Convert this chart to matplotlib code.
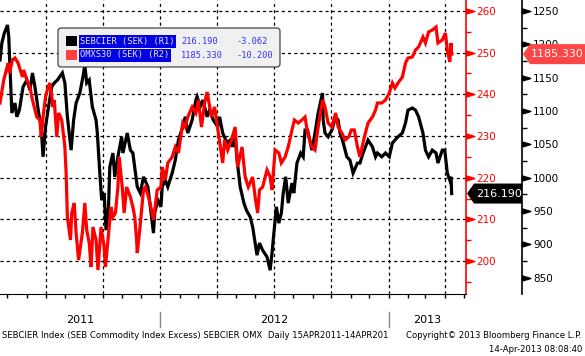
import matplotlib
matplotlib.use('Agg')
import matplotlib.pyplot as plt
import matplotlib.dates as mdates
import matplotlib.transforms as mtransforms
import matplotlib.ticker as mticker
from matplotlib.patches import Rectangle, Polygon, FancyBboxPatch
from matplotlib.path import Path
import pandas as pd

# SEBCIER (SEK) (R1 axis, red labels)
seb_dates = [
    '2011-04-19', '2011-04-22', '2011-04-26', '2011-05-01', '2011-05-03', '2011-05-05', '2011-05-08',
    '2011-05-13', '2011-05-16', '2011-05-20', '2011-05-26', '2011-06-01', '2011-06-06', '2011-06-10',
    '2011-06-14', '2011-06-20', '2011-06-24', '2011-06-27', '2011-07-01', '2011-07-05', '2011-07-11',
    '2011-07-15', '2011-07-20', '2011-07-28', '2011-08-01', '2011-08-05', '2011-08-11', '2011-08-15',
    '2011-08-19', '2011-08-25', '2011-08-30', '2011-09-02', '2011-09-05', '2011-09-09', '2011-09-14',
    '2011-09-20', '2011-09-22', '2011-09-26', '2011-09-29', '2011-10-03', '2011-10-06', '2011-10-10',
    '2011-10-12', '2011-10-17', '2011-10-20', '2011-10-25', '2011-10-31', '2011-11-02', '2011-11-09',
    '2011-11-14', '2011-11-18', '2011-11-25', '2011-11-30', '2011-12-05', '2011-12-12', '2011-12-16',
    '2011-12-21', '2011-12-23', '2011-12-28', '2012-01-02', '2012-01-04', '2012-01-09', '2012-01-13',
    '2012-01-20', '2012-01-25', '2012-01-30', '2012-02-06', '2012-02-10', '2012-02-14', '2012-02-21',
    '2012-02-27', '2012-02-29', '2012-03-05', '2012-03-09', '2012-03-16', '2012-03-20', '2012-03-26',
    '2012-04-02', '2012-04-05', '2012-04-10', '2012-04-17', '2012-04-22', '2012-04-26', '2012-04-30',
    '2012-05-03', '2012-05-08', '2012-05-14', '2012-05-18', '2012-05-24', '2012-05-28', '2012-06-01',
    '2012-06-04', '2012-06-08', '2012-06-13', '2012-06-20', '2012-06-25', '2012-06-28', '2012-07-02',
    '2012-07-05', '2012-07-09', '2012-07-13', '2012-07-16', '2012-07-20', '2012-07-24', '2012-07-30',
    '2012-08-02', '2012-08-07', '2012-08-13', '2012-08-17', '2012-08-20', '2012-08-24', '2012-08-31',
    '2012-09-05', '2012-09-10', '2012-09-17', '2012-09-18', '2012-09-21', '2012-09-26', '2012-10-02',
    '2012-10-08', '2012-10-12', '2012-10-15', '2012-10-19', '2012-10-26', '2012-10-31', '2012-11-05',
    '2012-11-12', '2012-11-16', '2012-11-21', '2012-11-29', '2012-12-06', '2012-12-11', '2012-12-14',
    '2012-12-21', '2012-12-27', '2013-01-02', '2013-01-07', '2013-01-11', '2013-01-16', '2013-01-23',
    '2013-01-28', '2013-02-01', '2013-02-08', '2013-02-13', '2013-02-18', '2013-02-25', '2013-03-01',
    '2013-03-06', '2013-03-12', '2013-03-18', '2013-03-21', '2013-03-28', '2013-04-01', '2013-04-05',
    '2013-04-09', '2013-04-11', '2013-04-12']
seb_vals = [
    248.2, 252.3, 254.7, 256.6, 253.8, 246.6, 235.5,
    237.9, 234.6, 236.2, 241.8, 243.4, 241.0, 245.1,
    241.8, 235.5, 232.2, 225.0, 232.2, 236.2, 241.8,
    242.7, 243.4, 245.1, 242.7, 234.6, 226.6, 233.8,
    237.9, 240.3, 244.2, 247.0, 242.7, 243.4, 237.0,
    233.8, 230.7, 221.1, 214.6, 216.3, 207.4, 213.0,
    222.6, 225.9, 220.2, 225.0, 229.8, 225.9, 230.7,
    226.6, 225.9, 217.8, 216.3, 220.2, 217.8, 213.0,
    206.7, 211.5, 214.6, 213.0, 217.8, 219.4, 217.8,
    221.1, 224.2, 229.0, 232.2, 234.6, 230.7, 233.8,
    238.6, 239.4, 237.0, 238.6, 234.6, 236.2, 233.8,
    232.2, 234.6, 230.7, 228.3, 229.0, 227.4, 229.8,
    224.2, 217.8, 213.9, 212.2, 210.6, 208.2, 204.3,
    201.4, 204.3, 202.6, 201.0, 197.8, 201.9, 208.2,
    213.0, 209.1, 211.5, 216.3, 220.2, 213.9, 218.7,
    216.3, 223.5, 225.9, 225.0, 231.4, 231.4, 226.6,
    230.7, 235.5, 240.3, 233.8, 230.7, 229.8, 231.4,
    234.6, 233.8, 230.7, 229.0, 225.0, 224.2, 221.1,
    223.5, 223.5, 225.9, 229.0, 227.4, 225.0, 225.9,
    225.0, 225.9, 225.0, 228.3, 229.0, 229.8, 230.7,
    233.1, 236.2, 236.7, 236.2, 234.6, 230.7, 226.6,
    225.0, 226.6, 225.9, 223.5, 226.6, 226.6, 221.1,
    219.4, 220.2, 216.19]

# OMXS30 (SEK), R2 axis, black labels
omx_dates = [
    '2011-04-19', '2011-04-25', '2011-05-02', '2011-05-04', '2011-05-09', '2011-05-13', '2011-05-18',
    '2011-05-25', '2011-05-27', '2011-06-01', '2011-06-06', '2011-06-10', '2011-06-17', '2011-06-22',
    '2011-06-24', '2011-06-27', '2011-07-01', '2011-07-05', '2011-07-08', '2011-07-13', '2011-07-15',
    '2011-07-19', '2011-07-22', '2011-07-27', '2011-08-01', '2011-08-03', '2011-08-05', '2011-08-10',
    '2011-08-12', '2011-08-16', '2011-08-19', '2011-08-23', '2011-08-29', '2011-09-02', '2011-09-05',
    '2011-09-09', '2011-09-12', '2011-09-15', '2011-09-20', '2011-09-23', '2011-09-28', '2011-10-03',
    '2011-10-05', '2011-10-10', '2011-10-14', '2011-10-17', '2011-10-21', '2011-10-25', '2011-10-27',
    '2011-11-01', '2011-11-04', '2011-11-08', '2011-11-14', '2011-11-18', '2011-11-21', '2011-11-24',
    '2011-11-25', '2011-11-29', '2011-12-05', '2011-12-08', '2011-12-13', '2011-12-19', '2011-12-21',
    '2011-12-27', '2012-01-02', '2012-01-04', '2012-01-09', '2012-01-13', '2012-01-20', '2012-01-25',
    '2012-01-30', '2012-02-06', '2012-02-10', '2012-02-14', '2012-02-21', '2012-02-27', '2012-03-02',
    '2012-03-07', '2012-03-12', '2012-03-16', '2012-03-23', '2012-03-28', '2012-04-03', '2012-04-10',
    '2012-04-13', '2012-04-18', '2012-04-24', '2012-04-30', '2012-05-04', '2012-05-11', '2012-05-16',
    '2012-05-21', '2012-05-28', '2012-06-01', '2012-06-05', '2012-06-08', '2012-06-13', '2012-06-20',
    '2012-06-25', '2012-06-28', '2012-07-03', '2012-07-09', '2012-07-13', '2012-07-19', '2012-07-24',
    '2012-07-30', '2012-08-03', '2012-08-09', '2012-08-15', '2012-08-20', '2012-08-24', '2012-08-31',
    '2012-09-05', '2012-09-10', '2012-09-17', '2012-09-21', '2012-09-26', '2012-10-02', '2012-10-08',
    '2012-10-12', '2012-10-18', '2012-10-23', '2012-10-29', '2012-11-02', '2012-11-07', '2012-11-12',
    '2012-11-16', '2012-11-23', '2012-11-29', '2012-12-06', '2012-12-11', '2012-12-14', '2012-12-21',
    '2012-12-27', '2013-01-02', '2013-01-07', '2013-01-11', '2013-01-16', '2013-01-23', '2013-01-28',
    '2013-02-01', '2013-02-08', '2013-02-13', '2013-02-18', '2013-02-25', '2013-03-01', '2013-03-06',
    '2013-03-12', '2013-03-18', '2013-03-21', '2013-03-28', '2013-04-02', '2013-04-05', '2013-04-09',
    '2013-04-11', '2013-04-12']
omx_vals = [
    1112, 1146.5, 1172, 1157, 1176.5, 1179.5, 1172,
    1151, 1161.5, 1146.5, 1136, 1116.5, 1091, 1086.5,
    1061, 1091, 1121, 1136, 1142, 1106, 1116.5,
    1061, 1097, 1086.5, 1046, 1007, 941, 906.5,
    947, 962, 917, 876.5, 917, 962, 921.5,
    902, 866, 926, 906.5, 861.5, 926, 896,
    866, 917, 956, 941, 947, 986, 1031,
    986, 947, 986, 971, 956, 941, 906.5,
    887, 921.5, 981.5, 986, 971, 947, 936.5,
    981.5, 986, 1016, 996.5, 1022, 1031, 1046,
    1037, 1082, 1076, 1091, 1106, 1097, 1116.5,
    1076, 1112, 1128.5, 1091, 1106, 1067, 1022,
    1056.5, 1041.5, 1056.5, 1076, 1016, 1046, 1001,
    986, 1001, 971, 947, 981.5, 986, 1011.5,
    1001, 981.5, 1041.5, 1037, 1022, 1031, 1046,
    1071.5, 1086.5, 1082, 1086.5, 1091, 1067, 1046,
    1041.5, 1076, 1116.5, 1106, 1082, 1076, 1097,
    1076, 1067, 1056.5, 1061, 1071.5, 1071.5, 1046,
    1031, 1061, 1082, 1091, 1101.5, 1112, 1112,
    1116.5, 1127, 1142, 1134.5, 1142, 1151, 1172,
    1179.5, 1181, 1191.5, 1196, 1211, 1202, 1218.5,
    1221.5, 1226, 1202, 1206.5, 1217, 1191.5, 1173.5,
    1202, 1185.33]

seb_ticks = [200, 210, 220, 230, 240, 250, 260]
omx_ticks = [850, 900, 950, 1000, 1050, 1100, 1150, 1200, 1250]
years = ['2011', '2012', '2013']

seb_x = pd.to_datetime(seb_dates)
omx_x = pd.to_datetime(omx_dates)

W, H = 585, 356
fig = plt.figure(figsize=(W / 100, H / 100), dpi=100)
fig.patch.set_facecolor('white')
# pixel coords measured from the top left
px = mtransforms.Affine2D().scale(1 / W, -1 / H).translate(0, 1) + fig.transFigure

ax = fig.add_axes([0, 1 - 294 / H, 466 / W, 294 / H])
ax2 = ax.twinx()

x0 = pd.Timestamp('2011-04-19')
x1 = pd.Timestamp('2013-05-05')
ax.set_xlim(x0, x1)
ax.set_ylim(192.1, 262.6)
ax2.set_ylim(825.5, 1266.5)

ax.plot(seb_x, seb_vals, color='black', lw=2.3, solid_joinstyle='miter')
ax2.plot(omx_x, omx_vals, color='#ff0000', lw=2.3, solid_joinstyle='miter')

for s in ['top', 'left']:
    ax.spines[s].set_visible(False)
ax.spines['bottom'].set_color('black')
ax.spines['right'].set_color('red')
ax.spines['right'].set_linewidth(1.2)
for s in ['top', 'left', 'bottom']:
    ax2.spines[s].set_visible(False)
ax2.spines['right'].set_position(('axes', 522 / 466))
ax2.spines['right'].set_color('black')
ax2.spines['right'].set_linewidth(1.2)

# x axis: monthly ticks, quarterly grid
ax.xaxis.set_major_locator(mdates.MonthLocator(bymonth=[1, 4, 7, 10]))
ax.xaxis.set_minor_locator(mdates.MonthLocator())
ax.xaxis.set_major_formatter(mticker.NullFormatter())
ax.tick_params(axis='x', which='both', length=3, width=1, direction='out', color='black')

dash = (0, (2.5, 2.5))
ax.grid(axis='x', which='major', color='black', ls=dash, lw=0.9)
ax.grid(axis='y', which='major', color='black', ls=dash, lw=0.9)

# red axis (SEBCIER)
ax.yaxis.tick_right()
ax.yaxis.set_major_locator(mticker.FixedLocator(seb_ticks))
ax.yaxis.set_minor_locator(mticker.MultipleLocator(5))
ax.tick_params(axis='y', which='major', length=0, labelcolor='red', pad=7.5, labelsize=7.5)
ax.tick_params(axis='y', which='minor', length=3.5, width=1, color='red', direction='out')

# black axis (OMXS30)
ax2.yaxis.set_major_locator(mticker.FixedLocator(omx_ticks))
ax2.yaxis.set_minor_locator(mticker.MultipleLocator(25))
ax2.tick_params(axis='y', which='major', length=0, labelcolor='black', pad=8, labelsize=7.5)
ax2.tick_params(axis='y', which='minor', length=3.5, width=1, color='black', direction='out')

tri = Path([(0, -0.3), (1, 0), (0, 0.3), (0, -0.3)])
ax.plot([1.0] * len(seb_ticks), seb_ticks, ls='none', marker=tri, ms=12, color='red',
        transform=ax.get_yaxis_transform(), clip_on=False)
ax2.plot([522 / 466] * len(omx_ticks), omx_ticks, ls='none', marker=tri, ms=12, color='black',
         transform=ax2.get_yaxis_transform(), clip_on=False)

# year labels with separators
bounds = [x0, pd.Timestamp('2012-01-01'), pd.Timestamp('2013-01-01'), x1]
xt = ax.get_xaxis_transform()
for i, yr in enumerate(years):
    a = mdates.date2num(bounds[i])
    b = mdates.date2num(bounds[i + 1])
    ax.text((a + b) / 2, -0.088, yr, transform=xt, ha='center', va='center', fontsize=8)
for d in bounds[1:3]:
    ax.plot([d, d], [-0.061, -0.113], transform=xt, color='#888888', lw=1, clip_on=False)


def pix_y(axis, v):
    yd = axis.transData.transform((0, v))[1]
    return H - yd * H / fig.bbox.height


# last value tags
yb = pix_y(ax, seb_vals[-1])
fig.add_artist(Polygon([(467, yb), (474, yb - 10), (522, yb - 10), (522, yb + 10), (474, yb + 10)],
                       closed=True, fc='black', ec='none', transform=px, zorder=5))
fig.text(476, yb, '%.3f' % seb_vals[-1], transform=px, color='white', fontsize=8, va='center', zorder=6)
yr_ = pix_y(ax2, omx_vals[-1])
fig.add_artist(Polygon([(523, yr_), (530, yr_ - 10), (586, yr_ - 10), (586, yr_ + 10), (530, yr_ + 10)],
                       closed=True, fc='#ff4646', ec='none', transform=px, zorder=5))
fig.text(531, yr_, '%.3f' % omx_vals[-1], transform=px, color='white', fontsize=8, va='center', zorder=6)

# legend box
fig.add_artist(FancyBboxPatch((58, 28), 222, 39, boxstyle='round,pad=0,rounding_size=3',
                              fc='#f0f0f0', ec='#303030', lw=0.8, transform=px, zorder=5))
rows = [('SEBCIER (SEK) (R1)', 'black', '216.190', '-3.062', 41.5, 97),
        ('OMXS30 (SEK) (R2)', '#ff4040', '1185.330', '-10.200', 55, 92)]
for name, col, val, chg, yy, bw in rows:
    fig.add_artist(Rectangle((66, yy - 5.5), 11, 10, fc=col, ec='none', transform=px, zorder=6))
    fig.add_artist(Rectangle((79, yy - 6.5), bw, 13, fc='#0000e0', ec='none', transform=px, zorder=6))
    fig.text(80, yy, name, transform=px, family='DejaVu Sans Mono', fontsize=6.2,
             color='#e8e8ff', va='center', zorder=7)
    fig.text(181, yy, val, transform=px, family='DejaVu Sans Mono', fontsize=6.2,
             color='#3030ff', va='center', zorder=7)
    fig.text(236, yy, chg, transform=px, family='DejaVu Sans Mono', fontsize=6.2,
             color='#3030ff', va='center', zorder=7)

# footer
fig.text(2, 336, 'SEBCIER Index (SEB Commodity Index Excess) SEBCIER OMX  Daily 15APR2011-14APR201',
         transform=px, fontsize=6.1, va='center')
fig.text(582, 336, 'Copyright\u00a9 2013 Bloomberg Finance L.P.', transform=px, fontsize=6.1,
         va='center', ha='right')
fig.text(582, 349, '14-Apr-2013 08:08:40', transform=px, fontsize=6.1, va='center', ha='right')

fig.savefig('out.png', dpi=100)
